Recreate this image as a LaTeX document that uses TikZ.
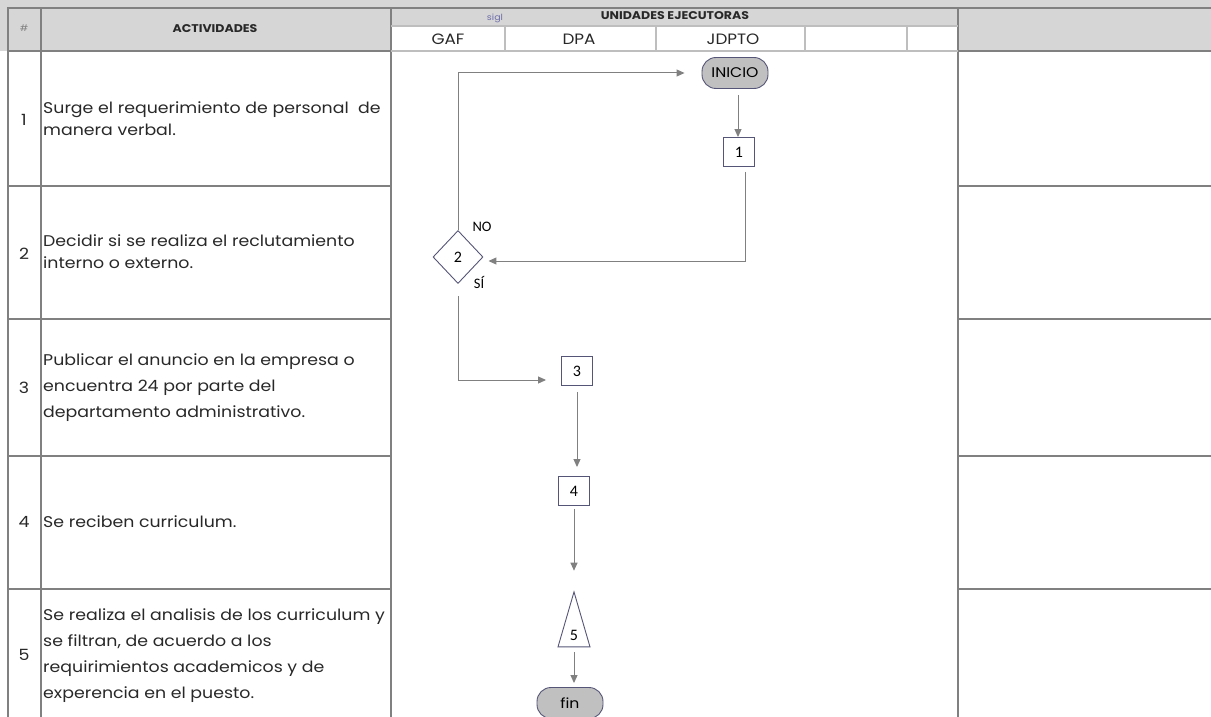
\documentclass[tikz,border=0pt]{standalone}
\usepackage{fontspec}
\setmainfont{Carlito}
\newfontfamily\gothic[FakeStretch=1.12]{Poppins}
\usetikzlibrary{arrows.meta,positioning,shapes.geometric}
\definecolor{gridcolor}{RGB}{128,128,128}
\definecolor{lightgrid}{RGB}{190,190,190}
\definecolor{headcolor}{RGB}{214,214,214}
\definecolor{shapecolor}{RGB}{85,85,120}
\definecolor{termcolor}{RGB}{192,192,192}
\definecolor{arrowcolor}{RGB}{128,128,128}
\definecolor{siglcolor}{RGB}{110,110,170}
\definecolor{labelcolor}{RGB}{40,40,40}
\tikzset{
gridline/.style={
  draw=gridcolor,
  line width=1.6pt
},
lightline/.style={
  draw=lightgrid,
  line width=1.2pt
},
rowtext/.style={
  anchor=west,
  align=left,
  inner sep=0pt,
  text=labelcolor,
  font=\gothic\fontsize{15.5}{22}\selectfont
},
widetext/.style={
  rowtext,
  font=\gothic\fontsize{15.5}{26}\selectfont
},
rownum/.style={
  text=labelcolor,
  font=\gothic\fontsize{15.5}{16}\selectfont
},
headtext/.style={
  text=labelcolor,
  font=\gothic\bfseries\fontsize{11.2}{12}\selectfont
},
unittext/.style={
  text=labelcolor,
  font=\gothic\fontsize{15}{16}\selectfont
},
flowarrow/.style={
  -{Triangle[length=8pt,width=7pt]},
  line width=1pt,
  draw=arrowcolor
}
}

\begin{document}
\begin{tikzpicture}[
    x=1pt, y=-1pt,
    stepbox/.style={
      rectangle, draw=shapecolor, fill=white,
      minimum width=31pt, minimum height=29pt, inner sep=0pt,
      font=\fontsize{16}{16}\selectfont, line width=0.9pt
    },
    termbox/.style={
      rectangle, draw=shapecolor, fill=termcolor,
      minimum width=66pt, minimum height=31pt, inner sep=0pt,
      rounded corners=14pt, font=\gothic\fontsize{14}{14}\selectfont, line width=0.9pt
    },
    decision/.style={
      diamond, draw=shapecolor, fill=white,
      minimum width=50pt, minimum height=53pt, inner sep=0pt,
      font=\fontsize{16}{16}\selectfont, line width=0.9pt
    },
    mergebox/.style={
      isosceles triangle, shape border rotate=90, isosceles triangle stretches,
      draw=shapecolor, fill=white,
      minimum width=32pt, minimum height=55pt, inner sep=0pt,
      font=\fontsize{16}{16}\selectfont, line width=0.9pt
    },
    flowlabel/.style={
      font=\fontsize{14.5}{14}\selectfont, text=black
    }
  ]
    \useasboundingbox (0,0) rectangle (1211,717);
    \clip (0,0) rectangle (1211,717);

    % header background
    \fill[headcolor] (0,0) rectangle (1211,51);
    \fill[white] (391,26) rectangle (958,51);

    % table lines
    \draw[gridline] (8,717) -- (8,8) -- (1211,8);
    \draw[gridline] (41,8) -- (41,717);
    \draw[gridline] (391,8) -- (391,717);
    \draw[gridline] (958,8) -- (958,717);
    \draw[gridline] (8,51) -- (391,51);
    \draw[gridline] (958,51) -- (1211,51);
    \draw[lightline] (391,26) -- (958,26);
    \draw[lightline] (391,51) -- (958,51);
    \draw[lightline] (505,26) -- (505,51);
    \draw[lightline] (656,26) -- (656,51);
    \draw[lightline] (805,26) -- (805,51);
    \draw[lightline] (907,26) -- (907,51);
    \foreach \y in {186,319,456,589}{
      \draw[gridline] (8,\y) -- (391,\y);
      \draw[gridline] (958,\y) -- (1211,\y);
    }

    % header texts
    \node[font=\gothic\fontsize{9}{10}\selectfont, text=gridcolor] (hnum) at (24,28) {\#};
    \node[headtext] (hact) at (215,29) {ACTIVIDADES};
    \node[font=\gothic\fontsize{8.5}{9}\selectfont, text=siglcolor] (hsigl) at (495,18) {sigl};
    \node[headtext] (hunit) at (675,16) {UNIDADES EJECUTORAS};
    \node[unittext] (gaf) at (448,39) {GAF};
    \node[unittext] (dpa) at (579,39) {DPA};
    \node[unittext] (jdpto) at (733,39) {JDPTO};

    % activities
    \node[rownum] (n1) at (24,120) {1};
    \node[rowtext] (a1) at (43,119) {Surge el requerimiento de personal \ de\\manera verbal.};
    \node[rownum] (n2) at (24,254) {2};
    \node[rowtext] (a2) at (43,252) {Decidir si se realiza el reclutamiento\\interno o externo.};
    \node[rownum] (n3) at (24,388) {3};
    \node[widetext] (a3) at (43,388) {Publicar el anuncio en la empresa o\\encuentra 24 por parte del\\departamento administrativo.};
    \node[rownum] (n4) at (24,522) {4};
    \node[rowtext] (a4) at (43,522) {Se reciben curriculum.};
    \node[rownum] (n5) at (24,655) {5};
    \node[widetext] (a5) at (43,656) {Se realiza el analisis de los curriculum y\\se filtran, de acuerdo a los\\requirimientos academicos y de\\experencia en el puesto.};

    % flow shapes
    \node[termbox] (inicio) at (735,73) {INICIO};
    \node[stepbox] (b1) at (739,152) {1};
    \node[decision] (d2) at (458,257) {2};
    \node[stepbox] (b3) at (577,371) {3};
    \node[stepbox] (b4) at (574,491) {4};
    \node[mergebox] (t5) at (574,635) {5};
    \node[termbox] (fin) at (570,703) {fin};

    % decision labels
    \node[flowlabel] (lno) at ([xshift=24pt,yshift=3pt]d2.north) {NO};
    \node[flowlabel] (lsi) at ([xshift=21pt,yshift=1pt]d2.south) {SÍ};

    % connectors
    \draw[flowarrow] ([xshift=-1pt,yshift=-6pt]b1.north |- inicio.south) -- ([xshift=-1pt]b1.north);
    \draw[flowarrow] ([xshift=6pt,yshift=-5pt]b1.south) |- ([xshift=5pt,yshift=-4pt]d2.east);
    \draw[flowarrow] (d2.north) |- ([xshift=-17pt]inicio.west);
    \draw[flowarrow] ([yshift=-12pt]d2.south) |- ([xshift=-15pt,yshift=-9pt]b3.west);
    \draw[flowarrow, shorten <=6pt, shorten >=9pt] (b3.south) -- (b3.south |- b4.north);
    \draw[flowarrow, shorten <=3pt, shorten >=20pt] (b4.south) -- (t5.apex);
    \draw[flowarrow, shorten <=5pt, shorten >=4pt] (t5.south) -- (t5.south |- fin.north);

  \end{tikzpicture}
\end{document}
